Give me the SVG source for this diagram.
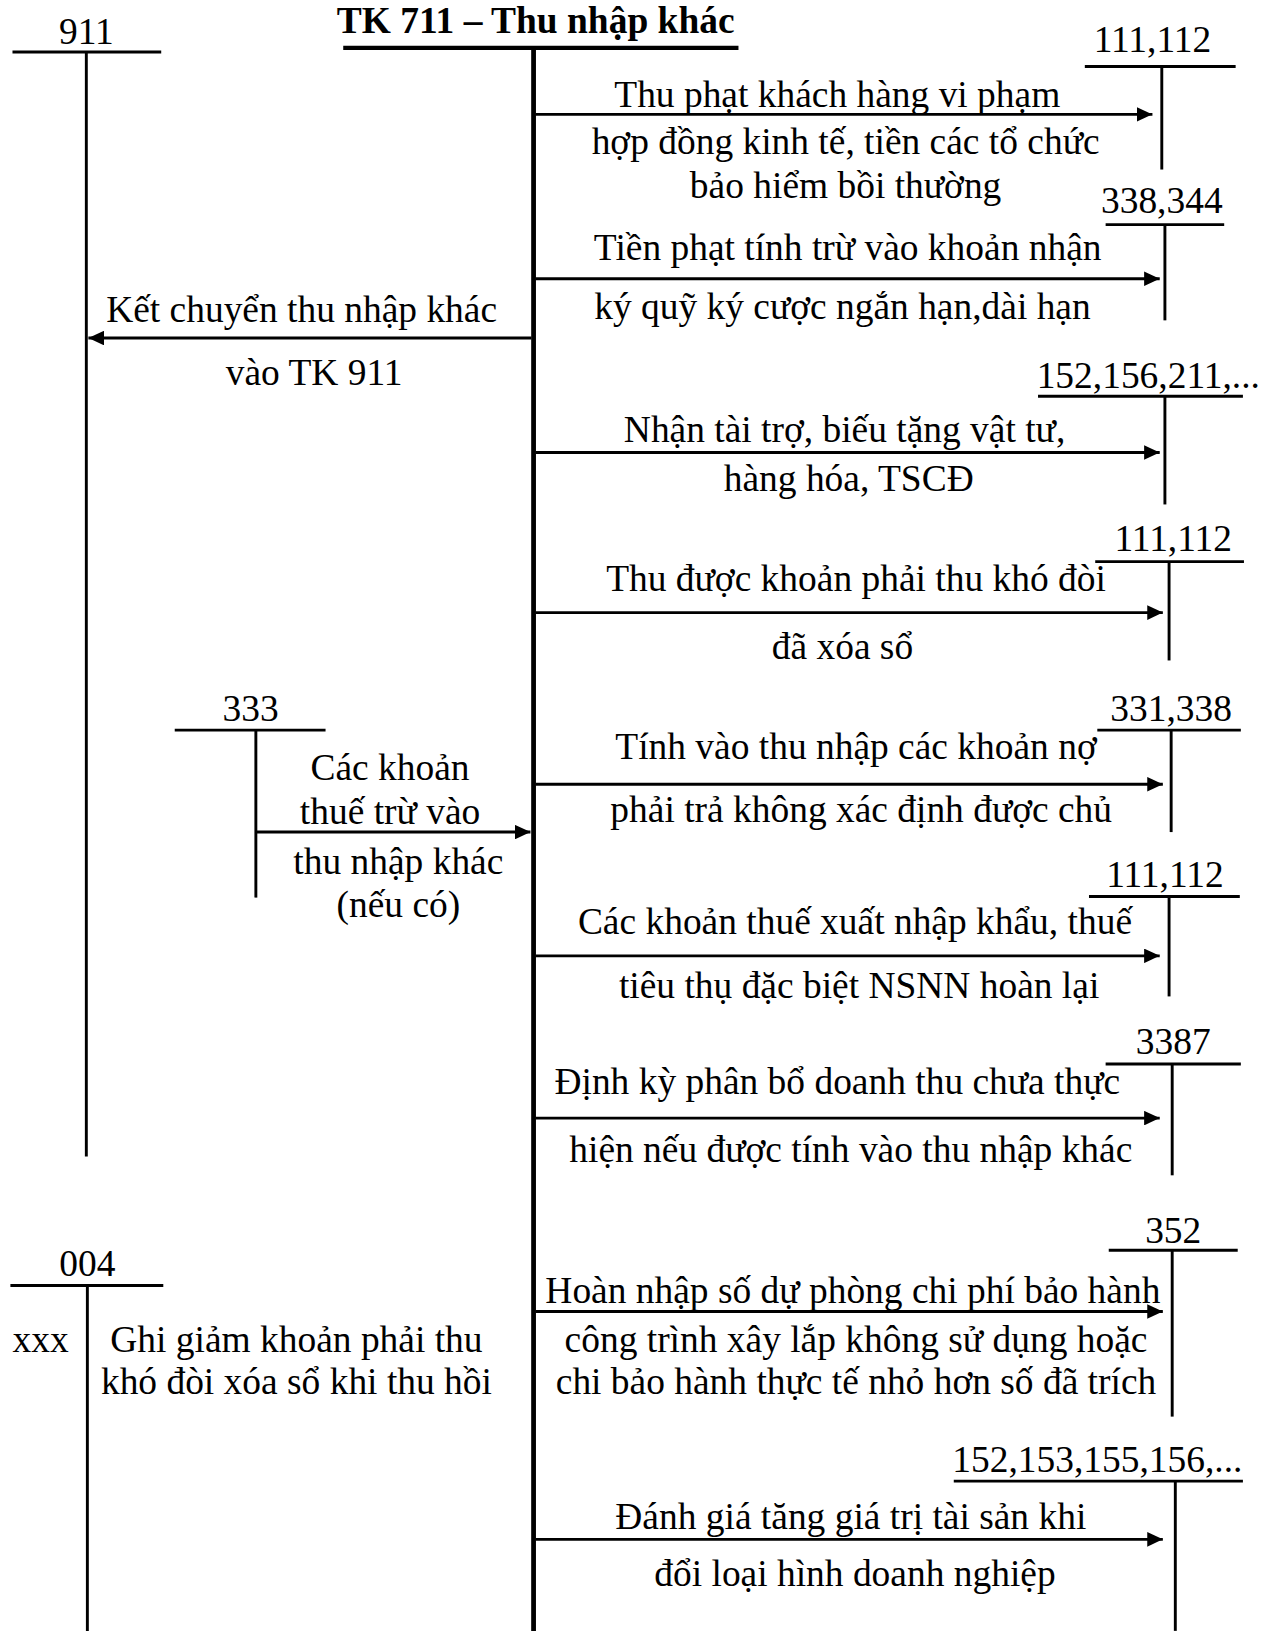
<svg xmlns="http://www.w3.org/2000/svg" width="1272" height="1631" viewBox="0 0 1272 1631">
<style>
text{font-family:"Liberation Serif","Times New Roman",serif;font-size:36px;fill:#000}
.m{text-anchor:middle}
.b{font-weight:bold}
line{stroke:#000;stroke-width:2.8}
.main{stroke-width:4.6}
.ul{stroke-width:4}
.arr{stroke-width:2.8;marker-end:url(#ah)}
</style>
<defs>
<marker id="ah" viewBox="0 0 15 14" refX="15" refY="7" markerWidth="15" markerHeight="14" markerUnits="userSpaceOnUse" orient="auto">
<path d="M0,0 L15,7 L0,14 Z" fill="#000"/>
</marker>
</defs>
<rect width="1272" height="1631" fill="#fff"/>
<g transform="scale(1.0401)">
<g id="tk711">
<text class="m b" x="515" y="32">TK 711 – Thu nhập khác</text>
<line class="ul" x1="330" y1="46" x2="710" y2="46"/>
<line class="main" x1="513" y1="46" x2="513" y2="1568"/>
</g>
<g id="tk911">
<text class="m" x="83" y="42">911</text>
<line x1="12" y1="50" x2="155" y2="50"/>
<line x1="83" y1="50" x2="83" y2="1112"/>
</g>
<g id="tk111a">
<text class="m" x="1108" y="50">111,112</text>
<line x1="1043" y1="64" x2="1188" y2="64"/>
<line x1="1117" y1="64" x2="1117" y2="163"/>
</g>
<g id="tk338">
<text class="m" x="1117" y="205">338,344</text>
<line x1="1063" y1="216" x2="1177" y2="216"/>
<line x1="1120" y1="216" x2="1120" y2="308"/>
</g>
<g id="tk152a">
<text class="m" x="1104" y="373">152,156,211,...</text>
<line x1="998" y1="381" x2="1195" y2="381"/>
<line x1="1120" y1="381" x2="1120" y2="485"/>
</g>
<g id="tk111b">
<text class="m" x="1128" y="530">111,112</text>
<line x1="1053" y1="540" x2="1196" y2="540"/>
<line x1="1124" y1="540" x2="1124" y2="635"/>
</g>
<g id="tk333">
<text class="m" x="241" y="693">333</text>
<line x1="168" y1="702" x2="313" y2="702"/>
<line x1="246" y1="702" x2="246" y2="863"/>
</g>
<g id="tk331">
<text class="m" x="1126" y="693">331,338</text>
<line x1="1055" y1="702" x2="1193" y2="702"/>
<line x1="1126" y1="702" x2="1126" y2="800"/>
</g>
<g id="tk111c">
<text class="m" x="1120" y="853">111,112</text>
<line x1="1047" y1="862" x2="1192" y2="862"/>
<line x1="1124" y1="862" x2="1124" y2="958"/>
</g>
<g id="tk3387">
<text class="m" x="1128" y="1013">3387</text>
<line x1="1063" y1="1023" x2="1193" y2="1023"/>
<line x1="1127" y1="1023" x2="1127" y2="1130"/>
</g>
<g id="tk352">
<text class="m" x="1128" y="1195">352</text>
<line x1="1066" y1="1202" x2="1190" y2="1202"/>
<line x1="1127" y1="1202" x2="1127" y2="1362"/>
</g>
<g id="tk004">
<text class="m" x="84" y="1227">004</text>
<line x1="10" y1="1236" x2="157" y2="1236"/>
<line x1="84" y1="1236" x2="84" y2="1568"/>
<text x="12" y="1300">xxx</text>
<text class="m" x="285" y="1300">Ghi giảm khoản phải thu</text>
<text class="m" x="285" y="1340">khó đòi xóa sổ khi thu hồi</text>
</g>
<g id="tk152b">
<text class="m" x="1055" y="1415">152,153,155,156,...</text>
<line x1="917" y1="1424" x2="1195" y2="1424"/>
<line x1="1130" y1="1424" x2="1130" y2="1568"/>
</g>
<g id="connectors">
<line class="arr" x1="511" y1="325" x2="85" y2="325"/>
<line class="arr" x1="515" y1="110" x2="1108" y2="110"/>
<line class="arr" x1="515" y1="268" x2="1115" y2="268"/>
<line class="arr" x1="515" y1="435" x2="1115" y2="435"/>
<line class="arr" x1="515" y1="589" x2="1118" y2="589"/>
<line class="arr" x1="246" y1="800" x2="510" y2="800"/>
<line class="arr" x1="515" y1="754" x2="1118" y2="754"/>
<line class="arr" x1="515" y1="919" x2="1115" y2="919"/>
<line class="arr" x1="515" y1="1075" x2="1115" y2="1075"/>
<line class="arr" x1="515" y1="1261" x2="1118" y2="1261"/>
<line class="arr" x1="515" y1="1480" x2="1118" y2="1480"/>
</g>
<g id="labels">
<text class="m" x="290" y="310">Kết chuyển thu nhập khác</text>
<text class="m" x="302" y="370">vào TK 911</text>
<text class="m" x="805" y="103">Thu phạt khách hàng vi phạm</text>
<text class="m" x="813" y="148">hợp đồng kinh tế, tiền các tổ chức</text>
<text class="m" x="813" y="190">bảo hiểm bồi thường</text>
<text class="m" x="815" y="250">Tiền phạt tính trừ vào khoản nhận</text>
<text class="m" x="810" y="307">ký quỹ ký cược ngắn hạn,dài hạn</text>
<text class="m" x="812" y="425">Nhận tài trợ, biếu tặng vật tư,</text>
<text class="m" x="816" y="472">hàng hóa, TSCĐ</text>
<text class="m" x="823" y="568">Thu được khoản phải thu khó đòi</text>
<text class="m" x="810" y="634">đã xóa sổ</text>
<text class="m" x="375" y="750">Các khoản</text>
<text class="m" x="375" y="792">thuế trừ vào</text>
<text class="m" x="383" y="840">thu nhập khác</text>
<text class="m" x="383" y="882">(nếu có)</text>
<text class="m" x="823" y="730">Tính vào thu nhập các khoản nợ</text>
<text class="m" x="828" y="790">phải trả không xác định được chủ</text>
<text class="m" x="822" y="898">Các khoản thuế xuất nhập khẩu, thuế</text>
<text class="m" x="826" y="960">tiêu thụ đặc biệt NSNN hoàn lại</text>
<text class="m" x="805" y="1052">Định kỳ phân bổ doanh thu chưa thực</text>
<text class="m" x="818" y="1117">hiện nếu được tính vào thu nhập khác</text>
<text class="m" x="820" y="1253">Hoàn nhập số dự phòng chi phí bảo hành</text>
<text class="m" x="823" y="1300">công trình xây lắp không sử dụng hoặc</text>
<text class="m" x="823" y="1340">chi bảo hành thực tế nhỏ hơn số đã trích</text>
<text class="m" x="818" y="1470">Đánh giá tăng giá trị tài sản khi</text>
<text class="m" x="822" y="1525">đổi loại hình doanh nghiệp</text>
</g>
</g>
</svg>
